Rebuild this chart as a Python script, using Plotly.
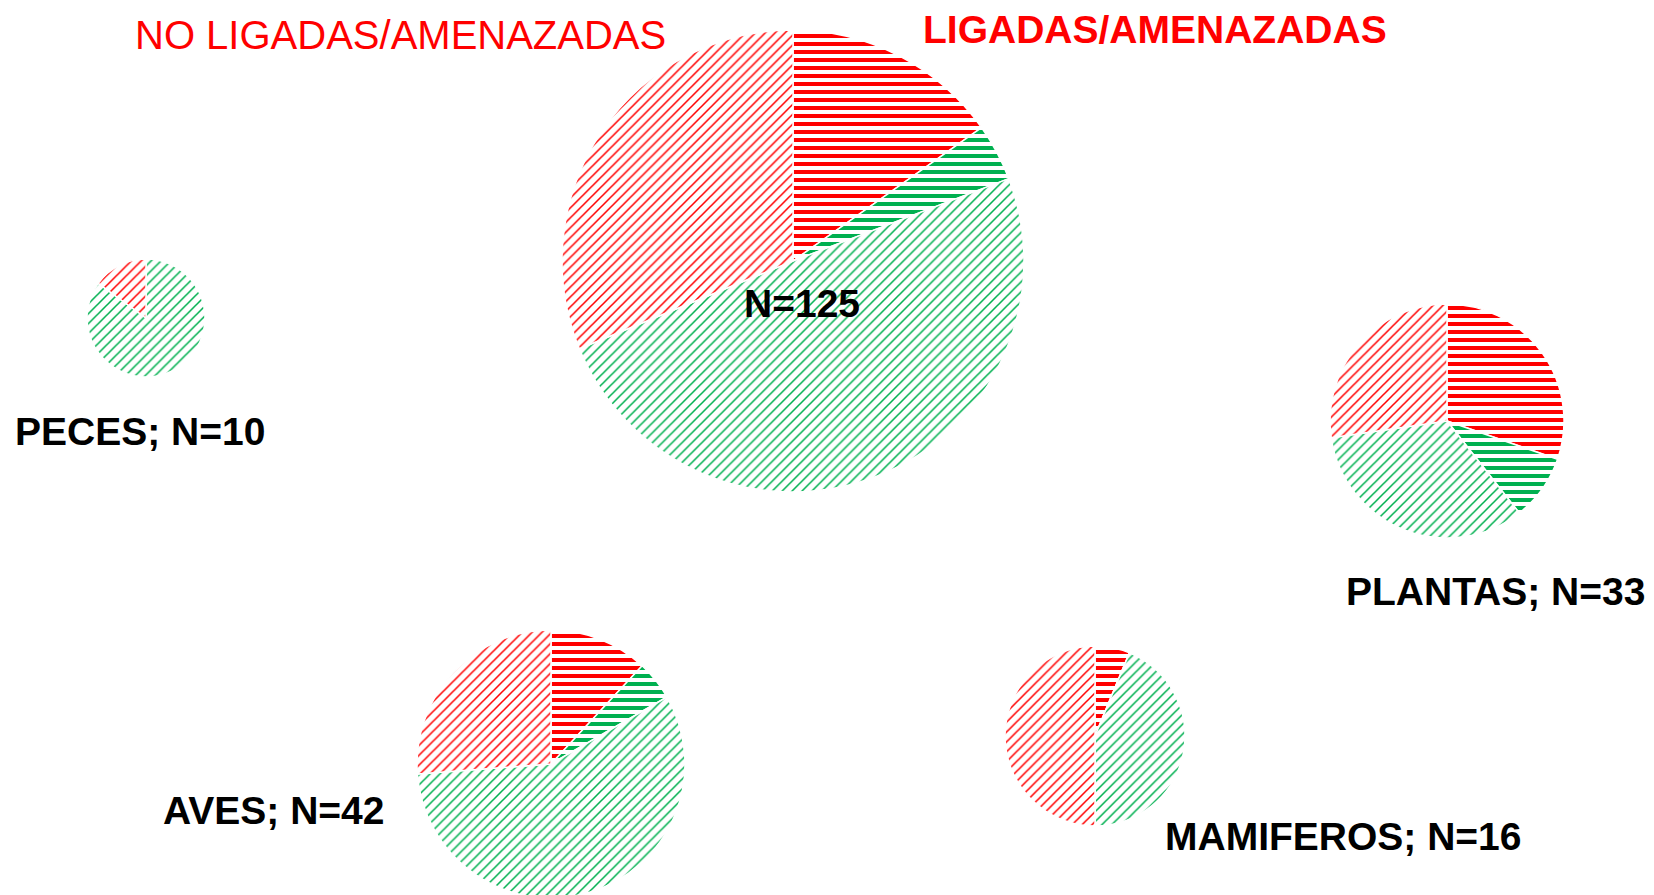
import plotly.graph_objects as go

# Slice order (clockwise from 12 o'clock)
slices = ["Ligadas/amenazadas (rojo)", "Ligadas/amenazadas (verde)",
          "No ligadas/amenazadas (verde)", "No ligadas/amenazadas (rojo)"]

grupos = ["TOTAL", "PECES", "PLANTAS", "AVES", "MAMIFEROS"]
etiquetas = ["N=125", "PECES; N=10", "PLANTAS; N=33", "AVES; N=42", "MAMIFEROS; N=16"]
total_vals = [19, 5, 62, 39]
peces_vals = [0, 0, 8.5, 1.5]
plantas_vals = [10, 3, 11, 9]
aves_vals = [5, 2, 24, 11]
mamiferos_vals = [1, 0, 7, 8]
valores = [total_vals, peces_vals, plantas_vals, aves_vals, mamiferos_vals]

W, H = 1654, 895
OFF = 8  # page body margin offset
RED = "#FF0000"
GREEN = "#00B050"

# pie centres / radii in pixels (screen)
centros = [(793, 261, 231), (146, 318, 59), (1447, 421, 117), (551, 764, 134), (1095, 736, 90)]
label_pos = [(802, 303), (140, 432), (1495, 591), (273, 810), (1343, 836)]

fig = go.Figure()
for g, vals, (cx, cy, r) in zip(grupos, valores, centros):
    cx -= OFF
    cy -= OFF
    fig.add_trace(go.Pie(
        labels=slices, values=vals, name=g,
        sort=False, direction="clockwise", rotation=0,
        textinfo="none", showlegend=False,
        domain=dict(x=[(cx - r) / W, (cx + r) / W],
                    y=[max(0, (H - cy - r) / H), min(1, (H - cy + r) / H)]),
        marker=dict(
            colors=["white"] * 4,
            line=dict(color="white", width=1.5),
            pattern=dict(
                shape=["-", "-", "/", "/"],
                fgcolor=[RED, GREEN, GREEN, RED],
                bgcolor="white",
                size=[8, 8, 7, 7],
                solidity=[0.5, 0.5, 0.22, 0.22],
                fillmode="replace",
            ),
        ),
    ))

def P(x, y):
    return (x - OFF) / W, 1 - (y - OFF) / H

ann = []
for txt, (x, y) in zip(etiquetas, label_pos):
    px, py = P(x, y)
    ann.append(dict(text=txt, x=px, y=py, xref="paper", yref="paper",
                    showarrow=False, xanchor="center", yanchor="middle",
                    font=dict(family="Liberation Sans", size=39, color="black", weight="bold")))
px, py = P(400, 35)
ann.append(dict(text="NO LIGADAS/AMENAZADAS", x=px, y=py, xref="paper", yref="paper",
                showarrow=False, xanchor="center", yanchor="middle",
                font=dict(family="Liberation Sans", size=40, color=RED)))
px, py = P(1155, 30)
ann.append(dict(text="LIGADAS/AMENAZADAS", x=px, y=py, xref="paper", yref="paper",
                showarrow=False, xanchor="center", yanchor="middle",
                font=dict(family="Liberation Sans", size=39, color=RED, weight="bold")))

fig.update_layout(width=W, height=H, margin=dict(l=0, r=0, t=0, b=0),
                  paper_bgcolor="white", plot_bgcolor="white", annotations=ann)
fig.write_html("out.html")
